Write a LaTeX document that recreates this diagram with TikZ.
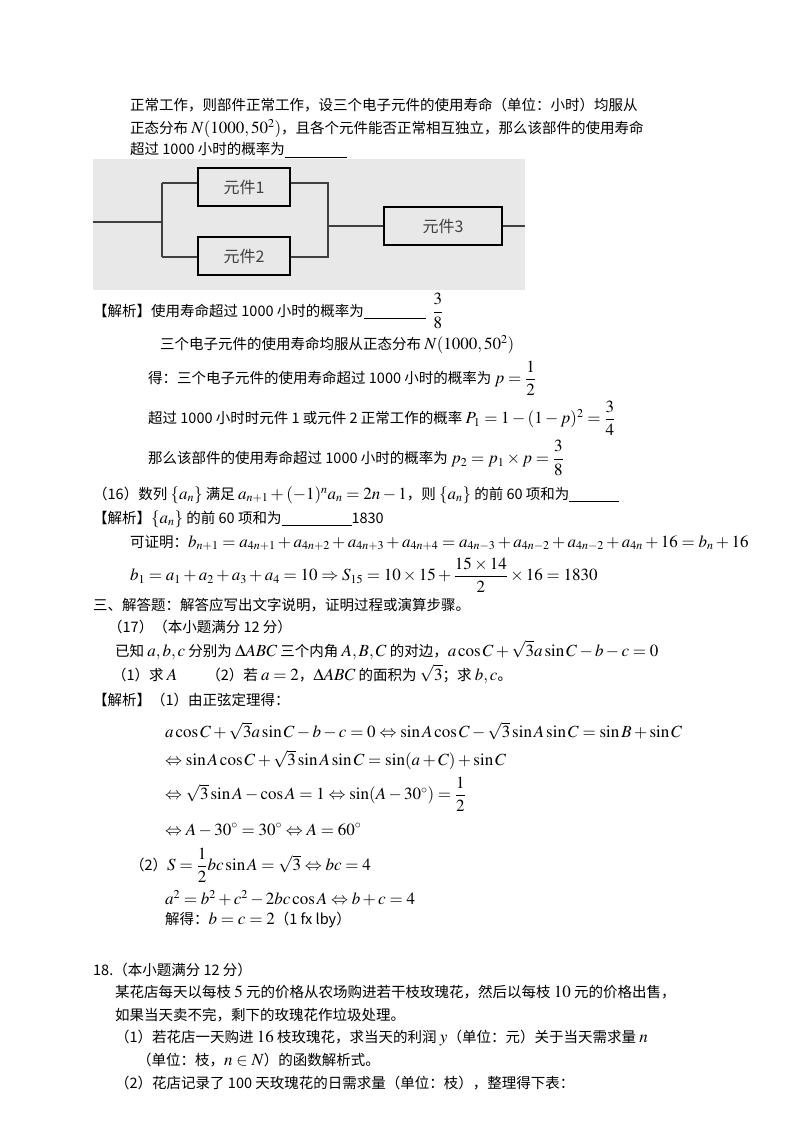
\documentclass[tikz,border=0pt]{standalone}
\usepackage{amsmath,amssymb}
\usepackage{mathptmx}
\usepackage{fontspec}
\setmainfont{Liberation Serif}
\newfontfamily\cjk{Noto Sans CJK SC}
\DeclareMathSizes{14.5}{17}{12}{9}
\tikzset{ln/.style={anchor=west,inner sep=0pt,font=\cjk\fontsize{14.5}{17}\selectfont},
 comp/.style={draw,line width=1.2pt,minimum width=92pt,minimum height=38pt,font=\cjk\fontsize{16}{18}\selectfont,text=black!75}}
\newcommand{\blank}[1]{\rule[-2.5pt]{#1}{0.7pt}}
\begin{document}
\begin{tikzpicture}[x=1pt,y=1pt]
\useasboundingbox (0,0) rectangle (800,-1132);
\fill[white] (0,0) rectangle (800,-1132);
\fill[black!9] (93,-159) rectangle (525,-290);
\node[ln] (l1) at (130,-105) {正常工作，则部件正常工作，设三个电子元件的使用寿命（单位：小时）均服从};
\node[ln] (l2) at (130,-129) {正态分布 $N(1000,50^2)$，且各个元件能否正常相互独立，那么该部件的使用寿命};
\node[ln] (l3) at (130,-150) {超过 1000 小时的概率为\blank{62pt}};
% circuit image
\node[comp] (c1) at (244,-187) {元件1};
\node[comp] (c2) at (244,-256) {元件2};
\node[comp,minimum width=118pt] (c3) at (443,-226) {元件3};
\coordinate (in) at (93,-222);
\coordinate (jl) at (162,-222);
\coordinate (jr) at (328,-226);
\coordinate (out) at (525,-226);
\draw[line width=1.2pt,black!75] (in) -- (jl) (162,-183) -- (162,-257);
\draw[line width=1.2pt,black!75] (162,-183) -- (c1.west|-162,-183);
\draw[line width=1.2pt,black!75] (162,-257) -- (c2.west|-162,-257);
\draw[line width=1.2pt,black!75] (c1.east|-328,-183) -- (328,-183) -- (328,-257) -- (c2.east|-328,-257);
\draw[line width=1.2pt,black!75] (jr) -- (c3.west) (c3.east) -- (out);
\node[ln] (s1) at (93,-311) {【解析】使用寿命超过 1000 小时的概率为\blank{62pt}\ \ $\dfrac{3}{8}$};
\node[ln] (s2) at (160,-345) {三个电子元件的使用寿命均服从正态分布 $N(1000,50^2)$};
\node[ln] (s3) at (148,-378) {得：三个电子元件的使用寿命超过 1000 小时的概率为 $p=\dfrac{1}{2}$};
\node[ln] (s4) at (148,-418) {超过 1000 小时时元件 1 或元件 2 正常工作的概率 $P_1=1-(1-p)^2=\dfrac{3}{4}$};
\node[ln] (s5) at (148,-458) {那么该部件的使用寿命超过 1000 小时的概率为 $p_2=p_1\times p=\dfrac{3}{8}$};
\node[ln] (q16) at (93,-495) {（16）数列 $\{a_n\}$ 满足 $a_{n+1}+(-1)^n a_n=2n-1$，则 $\{a_n\}$ 的前 60 项和为\blank{50pt}};
\node[ln] (a16) at (93,-519) {【解析】$\{a_n\}$ 的前 60 项和为\blank{70pt}1830};
\node[ln] (a16b) at (130,-543) {可证明：$b_{n+1}=a_{4n+1}+a_{4n+2}+a_{4n+3}+a_{4n+4}=a_{4n-3}+a_{4n-2}+a_{4n-2}+a_{4n}+16=b_n+16$};
\node[ln] (a16c) at (130,-575) {$b_1=a_1+a_2+a_3+a_4=10\Rightarrow S_{15}=10\times15+\dfrac{15\times14}{2}\times16=1830$};
\node[ln] (h3) at (93,-605) {三、解答题：解答应写出文字说明，证明过程或演算步骤。};
\node[ln] (q17) at (108,-627) {（17）（本小题满分 12 分）};
\node[ln] (q17a) at (115,-650) {已知 $a,b,c$ 分别为 $\Delta ABC$ 三个内角 $A,B,C$ 的对边，$a\cos C+\sqrt{3}a\sin C-b-c=0$};
\node[ln] (q17b) at (112,-674) {（1）求 $A$\qquad（2）若 $a=2$，$\Delta ABC$ 的面积为 $\sqrt3$；求 $b,c$。};
\node[ln] (a17) at (93,-700) {【解析】（1）由正弦定理得：};
\node[ln] (m1) at (165,-731) {$a\cos C+\sqrt{3}a\sin C-b-c=0\Leftrightarrow \sin A\cos C-\sqrt3\sin A\sin C=\sin B+\sin C$};
\node[ln] (m2) at (165,-760) {$\Leftrightarrow \sin A\cos C+\sqrt3\sin A\sin C=\sin(a+C)+\sin C$};
\node[ln] (m3) at (165,-794) {$\Leftrightarrow \sqrt3\sin A-\cos A=1\Leftrightarrow \sin(A-30^\circ)=\dfrac12$};
\node[ln] (m4) at (165,-830) {$\Leftrightarrow A-30^\circ=30^\circ\Leftrightarrow A=60^\circ$};
\node[ln] (m5) at (130,-865) {（2）$S=\dfrac12 bc\sin A=\sqrt3\Leftrightarrow bc=4$};
\node[ln] (m6) at (165,-898) {$a^2=b^2+c^2-2bc\cos A\Leftrightarrow b+c=4$};
\node[ln] (m7) at (165,-920) {解得：$b=c=2$（1 fx lby）};
\node[ln] (q18) at (93,-970) {18.（本小题满分 12 分）};
\node[ln] (q18a) at (115,-992) {某花店每天以每枝 $5$ 元的价格从农场购进若干枝玫瑰花，然后以每枝 $10$ 元的价格出售，};
\node[ln] (q18b) at (115,-1015) {如果当天卖不完，剩下的玫瑰花作垃圾处理。};
\node[ln] (q18c) at (115,-1038) {（1）若花店一天购进 $16$ 枝玫瑰花，求当天的利润 $y$（单位：元）关于当天需求量 $n$};
\node[ln] (q18d) at (137,-1060) {（单位：枝，$n\in N$）的函数解析式。};
\node[ln] (q18e) at (115,-1083) {（2）花店记录了 100 天玫瑰花的日需求量（单位：枝），整理得下表：};
\end{tikzpicture}
\end{document}
